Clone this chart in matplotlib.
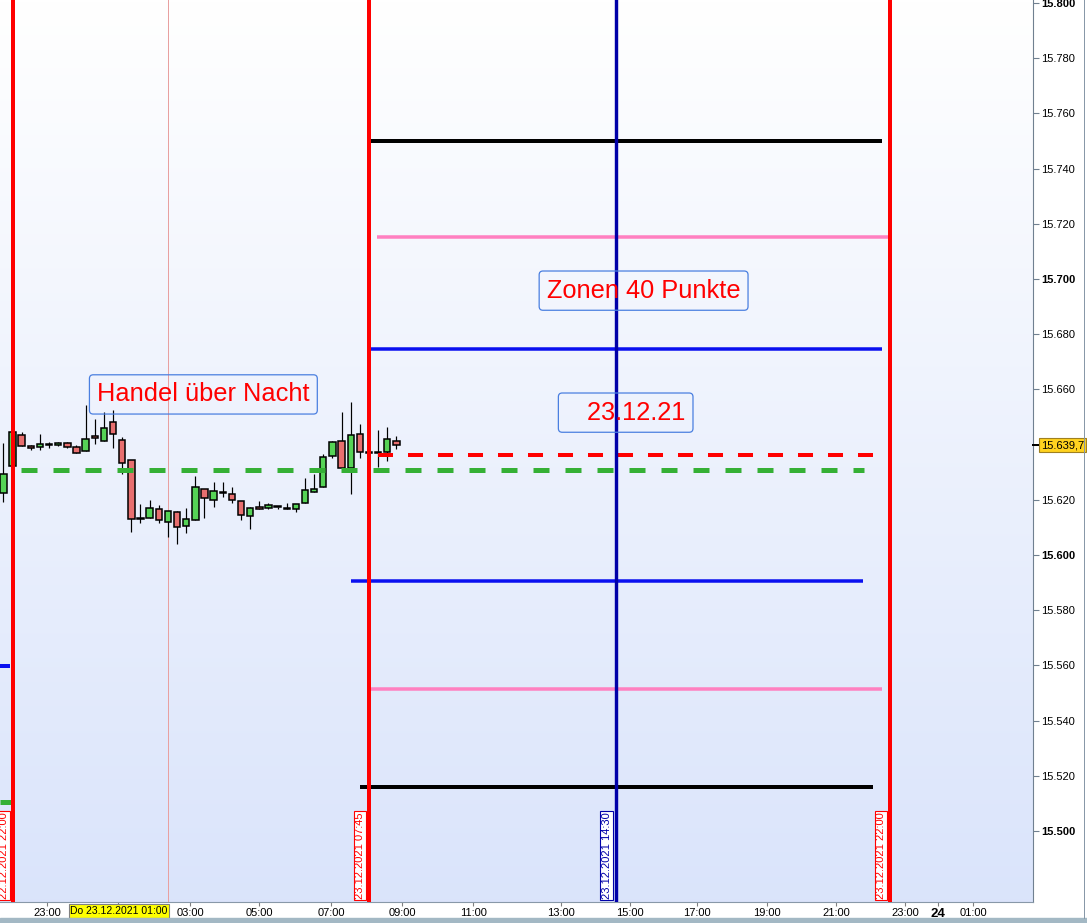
import matplotlib
matplotlib.use('Agg')
import matplotlib.pyplot as plt
import matplotlib.transforms as mtransforms
from matplotlib.patches import Rectangle
from matplotlib.lines import Line2D
import numpy as np

plt.rcParams['font.family'] = ['Liberation Sans', 'DejaVu Sans']
plt.rcParams['lines.scale_dashes'] = False

# ---------------- data ----------------
# 15-minute candles, time in hours since 22.12.2021 22:00
bar_index = list(range(-1, 43))
opens = [15622.5, 15632.2, 15643.5, 15639.4, 15639.1, 15639.9, 15639.9, 15640.6, 15639.1, 15637.7,
         15643.1, 15641.3, 15648.2, 15641.7, 15634.4, 15613.0, 15613.4, 15616.7, 15612.0, 15615.6,
         15610.5, 15612.7, 15623.9, 15619.9, 15622.6, 15622.1, 15619.6, 15614.1, 15617.4, 15617.0,
         15617.4, 15616.7, 15616.7, 15618.8, 15622.8, 15624.6, 15635.9, 15641.3, 15631.5, 15643.8,
         15637.0, 15637.0, 15637.3, 15641.3]
highs = [15640.6, 15645.0, 15644.6, 15639.9, 15643.8, 15641.0, 15640.9, 15641.0, 15639.9, 15654.3,
         15649.3, 15652.0, 15652.5, 15642.8, 15634.4, 15618.5, 15619.9, 15618.1, 15616.0, 15616.0,
         15617.0, 15628.6, 15623.9, 15626.4, 15626.4, 15624.6, 15619.6, 15617.4, 15619.6, 15618.8,
         15617.4, 15618.8, 15618.5, 15627.9, 15629.3, 15636.6, 15641.3, 15651.8, 15655.4, 15647.5,
         15640.0, 15645.3, 15646.4, 15643.1]
lows = [15619.2, 15631.5, 15639.5, 15638.0, 15638.0, 15638.8, 15639.5, 15638.8, 15636.9, 15637.7,
        15640.2, 15641.3, 15638.8, 15629.3, 15608.3, 15611.6, 15613.4, 15611.6, 15606.5, 15604.0,
        15607.9, 15612.7, 15613.4, 15617.4, 15621.0, 15618.8, 15612.7, 15609.4, 15616.7, 15616.7,
        15616.7, 15616.7, 15615.6, 15618.8, 15622.8, 15624.6, 15635.1, 15631.5, 15622.1, 15635.1,
        15634.5, 15631.9, 15634.1, 15638.4]
closes = [15629.3, 15644.6, 15639.5, 15638.7, 15640.2, 15639.9, 15640.6, 15639.1, 15636.9, 15642.0,
          15642.4, 15646.0, 15643.8, 15633.3, 15613.0, 15613.0, 15617.0, 15612.7, 15616.0, 15610.1,
          15613.0, 15624.6, 15620.7, 15623.2, 15622.6, 15619.9, 15614.5, 15617.0, 15616.7, 15618.1,
          15617.4, 15616.7, 15618.5, 15623.6, 15623.9, 15635.5, 15641.0, 15631.5, 15643.5, 15637.3,
          15637.0, 15637.0, 15642.0, 15639.7]
last_price = 15639.7
last_price_label = "15.639,7"

# zone levels (price, start hour, end hour)
zone_prices = [15750.0, 15715.2, 15674.5, 15590.6, 15551.4, 15516.0]
zone_start = [9.75, 9.97, 9.75, 9.26, 9.75, 9.50]
zone_end = [23.78, 24.03, 23.78, 23.26, 23.78, 23.53]
zone_colors = ['#000000', '#FF80C0', '#0A10F0', '#0A10F0', '#FF80C0', '#000000']
zone_widths_px = [4, 3.5, 3.5, 3.5, 3.5, 4]

# dashed reference lines
red_dash_price, red_dash_start, red_dash_end = 15636.2, 10.0, 23.53
green_dash_price, green_dash_start, green_dash_end = 15630.8, 0.23, 23.29

# short stubs at the left edge
stub_blue_price, stub_blue_end = 15559.8, -0.07
stub_green_price, stub_green_end = 15510.5, 0.05

# vertical session markers
vline_hours = [0.0, 9.75, 16.5, 24.0]
vline_labels = ['22.12.2021 22:00', '23.12.2021 07:45', '23.12.2021 14:30', '23.12.2021 22:00']
vline_colors = ['#FF0000', '#FF0000', '#0000A8', '#FF0000']
crosshair_hour = 4.25

# annotations (text, hour, price)
notes = [('Handel über Nacht', 5.22, 15658.2),
         ('Zonen 40 Punkte', 17.26, 15695.8),
         ('   23.12.21', 16.77, 15651.6)]

# x-axis ticks
xtick_hours = [0.94, 2.89, 4.86, 6.74, 8.71, 10.65, 12.60, 15.00, 16.89, 18.72, 20.64, 22.52, 24.41, 25.32, 26.28]
xtick_labels = ['23:00', '01:00', '03:00', '05:00', '07:00', '09:00', '11:00', '13:00', '15:00',
                '17:00', '19:00', '21:00', '23:00', '24', '01:00']
date_label = 'Do 23.12.2021 01:00'
date_label_hour = 2.91

ytick_values = list(range(15500, 15801, 20))

# ---------------- figure ----------------
W, H, DPI = 1087, 923, 100
PX = 72.0 / DPI  # points per pixel
fig = plt.figure(figsize=(W / DPI, H / DPI), dpi=DPI)
fig.patch.set_facecolor('white')
ax = fig.add_axes([0, 21 / H, 1033 / W, 902 / H])

xmin, xmax = -0.342, 27.91
ymin, ymax = 15474.3, 15801.1
ax.set_xlim(xmin, xmax)
ax.set_ylim(ymin, ymax)

# background gradient
top = np.array([1.0, 1.0, 1.0])
bot = np.array([0.855, 0.894, 0.984])
t = np.linspace(0, 1, 256)[:, None]
grad = (top[None, :] * (1 - t) + bot[None, :] * t)[:, None, :]
ax.imshow(grad, extent=[xmin, xmax, ymin, ymax], aspect='auto', origin='upper', zorder=0,
          interpolation='bilinear')

# candles
x = np.array(bar_index) * 0.25
o = np.array(opens); h = np.array(highs); l = np.array(lows); c = np.array(closes)
ax.vlines(x, l, h, color='black', lw=1.0 * PX * 1.2, zorder=3)
body_low = np.minimum(o, c)
body_h = np.abs(c - o)
cols = ['#56D356' if cc > oo else ('#E86F6F' if cc < oo else 'black') for oo, cc in zip(o, c)]
body_h = np.where(body_h < 0.35, 0.35, body_h)
ax.bar(x, body_h, bottom=body_low, width=0.175, color=cols, edgecolor='black',
       linewidth=1.1 * PX * 1.4, zorder=4)

# crosshair
ax.axvline(crosshair_hour, color='#E8A0A0', lw=1.0 * PX, zorder=2)

# zone lines
for p, s, e, col, wpx in zip(zone_prices, zone_start, zone_end, zone_colors, zone_widths_px):
    ax.plot([s, e], [p, p], color=col, lw=wpx * PX, solid_capstyle='butt', zorder=6)

# dashed lines
ax.plot([red_dash_start, red_dash_end], [red_dash_price] * 2, color='#FF0000', lw=4 * PX,
        linestyle=(0, (15 * PX, 15 * PX)), dash_capstyle='butt', zorder=6)
ax.plot([green_dash_start, green_dash_end], [green_dash_price] * 2, color='#35B035', lw=5 * PX,
        linestyle=(0, (16 * PX, 16 * PX)), dash_capstyle='butt', zorder=6)

# stubs
ax.plot([xmin, stub_blue_end], [stub_blue_price] * 2, color='#0A10F0', lw=4 * PX,
        solid_capstyle='butt', zorder=6)
ax.plot([xmin, stub_green_end], [stub_green_price] * 2, color='#35B035', lw=5 * PX,
        solid_capstyle='butt', zorder=6)

# vertical lines + rotated labels
for vh, lab, col in zip(vline_hours, vline_labels, vline_colors):
    ax.axvline(vh, color=col, lw=(3.4 if col == '#0000A8' else 4) * PX, zorder=7)
    ax.annotate(lab, xy=(vh, ymin), xytext=(-4, 3), textcoords='offset pixels',
                rotation=90, ha='right', va='bottom', fontsize=8, color=col, zorder=8,
                bbox=dict(boxstyle='square,pad=0.12', fc='white', ec=col, lw=0.8))

# notes
for txt, nx, ny in notes:
    ax.text(nx, ny, txt, ha='center', va='center', fontsize=18.3, color='#FF0000', zorder=9,
            bbox=dict(boxstyle='round,pad=0.3,rounding_size=0.15', fc='none', ec='#4A7FE0', lw=0.9))

# axes styling
for side in ['top', 'left']:
    ax.spines[side].set_visible(False)
ax.spines['right'].set_color('#708090')
ax.spines['bottom'].set_color('#8898A8')

ax.set_xticks(xtick_hours)
ax.set_xticklabels(xtick_labels)
ax.tick_params(axis='x', direction='out', length=3, color='#808080', labelsize=8, pad=1.5)
for tl, lab in zip(ax.get_xticklabels(), xtick_labels):
    if lab == '24':
        tl.set_fontweight('bold')
        tl.set_fontsize(9.5)
ax.get_xticklabels()[1].set_visible(False)
ax.annotate(date_label, xy=(date_label_hour, ymin), xytext=(0, -9), textcoords='offset pixels',
            ha='center', va='center', fontsize=7.5, color='black', annotation_clip=False,
            bbox=dict(boxstyle='square,pad=0.15', fc='#FFFF00', ec='#808080', lw=0.8))

ax.yaxis.tick_right()
ax.set_yticks(ytick_values)
ax.set_yticklabels(["" if abs(v - last_price) < 5 else f"{v:,}".replace(',', '.') for v in ytick_values])
ax.tick_params(axis='y', direction='out', length=4, color='#708090', labelsize=8, pad=2)
for tl, v in zip(ax.get_yticklabels(), ytick_values):
    if v % 100 == 0:
        tl.set_fontweight('bold')

# last price label
blend = mtransforms.blended_transform_factory(ax.transAxes, ax.transData)
ax.text(1.0 + 8 / 1033, last_price, last_price_label, transform=blend, ha='left', va='center',
        fontsize=8, color='black', zorder=10, clip_on=False,
        bbox=dict(boxstyle='square,pad=0.18', fc='#FFD21F', ec='#A08020', lw=0.8))
ax.add_line(Line2D([1.0, 1.0 + 5 / 1033], [last_price] * 2, transform=blend, color='black',
                   lw=2 * PX, clip_on=False, zorder=10))

# bottom bar and right edge
fig.patches.append(Rectangle((0, 0), 1, 5 / H, transform=fig.transFigure, color='#A3B8C4', zorder=0))
fig.lines.append(Line2D([1084 / W, 1084 / W], [5 / H, 1], transform=fig.transFigure,
                        color='#8898A8', lw=1 * PX))

fig.savefig('out.png', dpi=DPI)
